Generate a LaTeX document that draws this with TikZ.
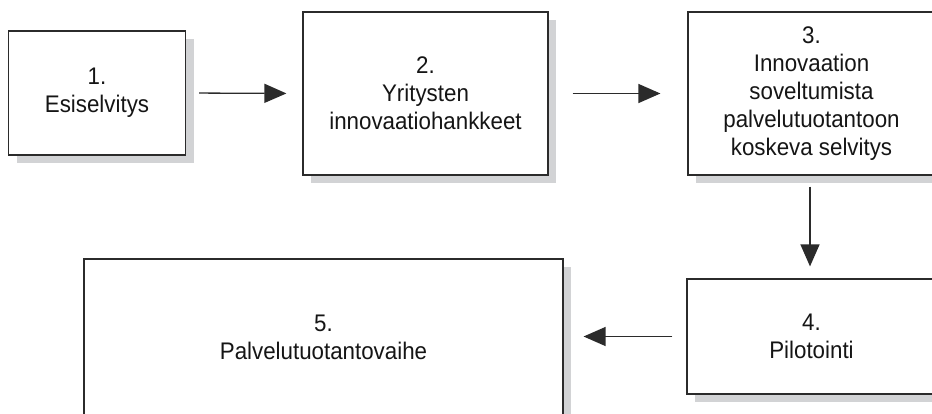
\documentclass[tikz,border=0pt]{standalone}
\usepackage{fontspec}
\setmainfont{Liberation Sans}[FakeStretch=0.93]
\usetikzlibrary{arrows.meta,shadows}
\definecolor{shadowgray}{HTML}{D2D3D5}
\definecolor{edgegray}{HTML}{2B2B2B}
\definecolor{textgray}{HTML}{151515}
\begin{document}
\begin{tikzpicture}[x=1pt,y=-1pt,
  stage/.style={draw=edgegray, line width=1.2pt, fill=white, rectangle,
    align=center, inner sep=0pt, text=textgray,
    font=\fontsize{24}{28}\selectfont,
    drop shadow={shadow xshift=8pt, shadow yshift=-8pt, opacity=1, fill=shadowgray}},
  flow/.style={draw=edgegray, line width=1.3pt, -{Triangle[length=22pt,width=19pt]}}]
\useasboundingbox (0,0) rectangle (932,413);
\clip (0,0) rectangle (932,413);
\fill[white] (0,0) rectangle (932,413);
\node[stage, minimum width=177pt, minimum height=124pt] (b1) at (97,93) {1.\\Esiselvitys};
\node[stage, minimum width=245pt, minimum height=163pt] (b2) at (425.5,93.5) {2.\\Yritysten\\innovaatiohankkeet};
\node[stage, minimum width=247pt, minimum height=163pt] (b3) at (811.5,93.5) {3.\\Innovaation\\soveltumista\\palvelutuotantoon\\koskeva selvitys};
\node[stage, minimum width=249pt, minimum height=115pt] (b4) at (811.5,336.5) {4.\\Pilotointi};
\node[stage, minimum width=479pt, minimum height=156pt] (b5) at (323.5,337) {5.\\Palvelutuotantovaihe};
\draw[flow, shorten <=13pt, shorten >=16pt] (b1.east) -- (b2.west);
\draw[flow, shorten <=24pt, shorten >=27pt] (b2.east) -- (b3.west);
\draw[flow, shorten <=11pt, shorten >=12pt] ([xshift=-1.5pt]b3.south) -- ([xshift=-1.5pt]b4.north);
\draw[flow, shorten <=14pt, shorten >=20pt] (b4.west) -- (b4.west -| b5.east);
\end{tikzpicture}
\end{document}
